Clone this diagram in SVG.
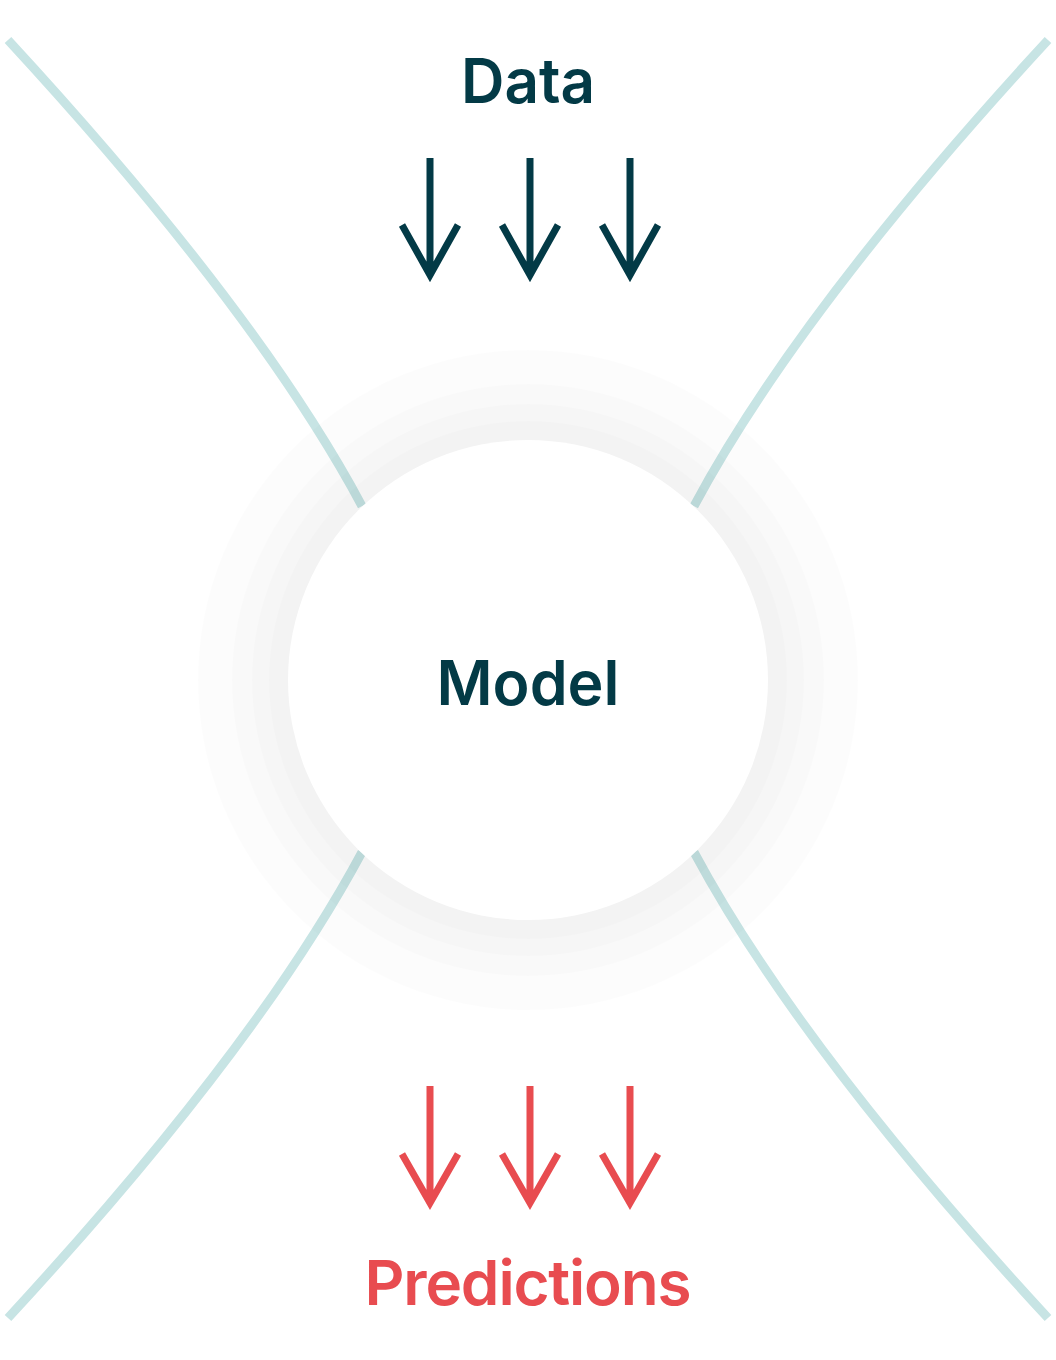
<svg xmlns="http://www.w3.org/2000/svg" width="1056" height="1360" viewBox="0 0 1056 1360">
  <style>
    .curve { fill: none; stroke: #c7e4e4; stroke-width: 9; stroke-linecap: butt; }
    .glow { fill: #000000; fill-opacity: 0.013; }
    .arrow-in { fill: none; stroke: #033a46; stroke-width: 7; stroke-linecap: butt; stroke-linejoin: miter; }
    .arrow-out { fill: none; stroke: #e84c50; stroke-width: 7; stroke-linecap: butt; stroke-linejoin: miter; }
    .label { font-family: Inter, "Liberation Sans", sans-serif; font-weight: 600; font-size: 62px; text-anchor: middle; }
    .dark { fill: #033a46; }
    .red { fill: #e84c50; }
  </style>
  <rect width="1056" height="1360" fill="#ffffff"/>
  <g id="connectors">
    <path class="curve" d="M8,40 Q257,310 362,506"/>
    <path class="curve" d="M1048,40 Q799,310 694,506"/>
    <path class="curve" d="M8,1318 Q257,1048 362,852"/>
    <path class="curve" d="M1048,1318 Q799,1048 694,852"/>
  </g>
  <g id="model">
    <circle class="glow" cx="528" cy="680" r="330"/>
    <circle class="glow" cx="528" cy="680" r="296"/>
    <circle class="glow" cx="528" cy="680" r="276"/>
    <circle class="glow" cx="528" cy="680" r="259"/>
    <circle cx="528" cy="680" r="240" fill="#ffffff"/>
    <text class="label dark" x="528" y="705" textLength="183" lengthAdjust="spacingAndGlyphs">Model</text>
  </g>
  <g id="data">
    <text class="label dark" x="528" y="103" textLength="134" lengthAdjust="spacingAndGlyphs">Data</text>
    <path class="arrow-in" d="M430,158 V275 M402,225 L430,275 L458,225"/>
    <path class="arrow-in" d="M530,158 V275 M502,225 L530,275 L558,225"/>
    <path class="arrow-in" d="M630,158 V275 M602,225 L630,275 L658,225"/>
  </g>
  <g id="predictions">
    <path class="arrow-out" d="M430,1086 V1203 M402,1154 L430,1203 L458,1154"/>
    <path class="arrow-out" d="M530,1086 V1203 M502,1154 L530,1203 L558,1154"/>
    <path class="arrow-out" d="M630,1086 V1203 M602,1154 L630,1203 L658,1154"/>
    <text class="label red" x="528" y="1305" textLength="327" lengthAdjust="spacing">Predictions</text>
  </g>
</svg>
